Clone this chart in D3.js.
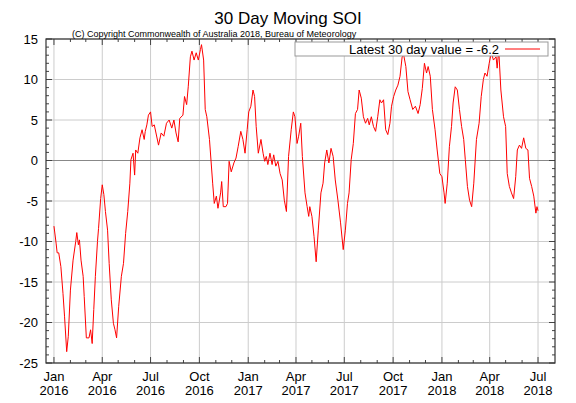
<!DOCTYPE html>
<html><head><meta charset="utf-8">
<script src="https://cdn.jsdelivr.net/npm/d3@7"></script>
<style>body{margin:0;background:#fff}text{font-family:"Liberation Sans",Arial,sans-serif}</style>
</head><body><svg id="c" width="576" height="403"></svg>
<script>
// days since 1 Jan 2016
var days = [0,4,6,9,13,17,20,24,27,31,36,41,43,46,48,51,55,57,61,66,69,72,75,78,82,84,88,91,94,97,101,104,108,112,115,118,122,127,131,135,139,143,145,149,152,154,158,162,166,170,172,175,178,182,185,189,197,202,207,212,217,222,226,230,234,237,243,246,250,253,257,260,264,268,272,276,278,282,285,288,293,299,302,306,309,314,316,319,324,327,330,334,339,343,347,352,356,360,364,367,371,375,378,381,385,390,394,397,400,403,407,411,414,418,422,426,430,434,438,442,447,451,454,458,461,465,468,473,477,480,482,486,490,494,498,503,507,510,514,518,522,526,530,535,540,545,549,553,556,560,564,568,572,575,579,583,587,591,594,598,602,606,610,614,617,621,625,629,633,636,640,644,648,652,656,659,663,667,671,676,681,686,690,694,698,702,705,709,713,718,722,727,731,735,737,741,745,749,752,756,760,764,768,772,775,779,783,787,791,796,801,805,809,812,816,820,824,828,833,835,838,842,847,851,854,858,862,866,870,873,877,881,885,889,893,896,900,904,908,910,912];
var soi = [-8.1,-10.2,-11.4,-11.4,-13.1,-16.4,-19.3,-23.6,-21.7,-16,-12.3,-10,-8.9,-10.4,-9.8,-12.3,-14.3,-16.8,-21.9,-21.9,-20.9,-22.6,-18.4,-14.3,-10,-8.4,-4.7,-3,-4.2,-6.3,-8.6,-12.7,-17.2,-20.1,-20.9,-21.9,-18,-14.3,-12.7,-9,-6.3,-2.8,0.1,0.9,-1.8,1.3,0.9,2.8,3.8,2.6,3.6,4.4,5.6,6,4.2,4.4,1.9,3.4,3,4.6,5,4,5,3.4,2.3,5.2,5.6,7.9,6.9,9.1,12.8,13.5,12.4,13.3,12.4,13.7,14.3,12.4,6.3,5.4,2.6,-2.8,-5.3,-4.4,-5.9,-4,-2.6,-5.7,-5.7,-5.3,-0.1,-1.4,-0.3,0.3,1.7,3.6,2.6,0.9,3.8,6,6.7,8.7,7.9,4.2,0.9,2.6,0.9,-0.1,0.5,-0.5,0.9,-0.5,0.7,-0.7,-0.1,-1.6,-2.4,-4.9,-6.3,0.5,3.8,6,5.4,2.1,3,4.6,0.5,-4,-5.7,-6.9,-5.7,-6.9,-9.4,-12.5,-8.6,-4,-2.8,-0.3,1.3,-0.3,1.5,0.5,-2.4,-4.9,-7.7,-11,-8.6,-5.3,-4,0.1,2.1,5.8,6.3,8.7,7.7,5.4,4.6,5.2,4.4,5.4,4.2,3.6,5.4,7.5,7.1,7.5,3.8,3.2,4.6,6.7,7.9,8.7,9.3,10.4,12.8,13,11.6,8.5,7.5,6.3,6.7,5.8,6.9,8.9,12,10.8,11.6,10.4,6.3,3.8,1.3,-1.6,-2,-4,-5.3,-2.8,1.7,4.2,7.1,9.1,8.7,6.3,4.2,2.6,0.1,-3.2,-4.9,-5.7,-2.8,2.6,4.6,7.9,10,10.8,10.4,12,13.3,12.4,12.8,11.4,13.7,8.7,5.4,4.2,-1.6,-3.2,-4,-4.7,-2,1.3,1.9,1.5,2.8,1.5,1.3,-2.2,-3.2,-4.4,-6.5,-5.7,-6.2];
var yTicks = [15,10,5,0,-5,-10,-15,-20,-25];
var xTickDates = ["2016-01-01","2016-04-01","2016-07-01","2016-10-01","2017-01-01","2017-04-01","2017-07-01","2017-10-01","2018-01-01","2018-04-01","2018-07-01"];
var monthNames = ["Jan","Feb","Mar","Apr","May","Jun","Jul","Aug","Sep","Oct","Nov","Dec"];

var svg = d3.select("#c");
var L = 46, R = 555, T = 39, B = 363;
var t0 = new Date(2016,0,1);
var x = d3.scaleTime().domain([new Date(2015,11,17), new Date(2018,7,2)]).range([L,R]);
var y = d3.scaleLinear().domain([-25,15]).range([B,T]);
var xt = xTickDates.map(function(s){ var p=s.split("-"); return new Date(+p[0],+p[1]-1,+p[2]); });

// grid
svg.selectAll(".gx").data(xt).enter().append("line")
  .attr("x1",function(d){return x(d)}).attr("x2",function(d){return x(d)})
  .attr("y1",T).attr("y2",B).attr("stroke","#ccc");
svg.selectAll(".gy").data(yTicks).enter().append("line")
  .attr("x1",L).attr("x2",R).attr("y1",function(d){return y(d)}).attr("y2",function(d){return y(d)})
  .attr("stroke",function(d){return d===0?"#888":"#ccc"});

// minor ticks
var months = d3.timeMonth.range(new Date(2016,0,1), new Date(2018,7,1));
svg.selectAll(".mx").data(months).enter().append("line")
  .attr("x1",function(d){return x(d)}).attr("x2",function(d){return x(d)})
  .attr("y1",B).attr("y2",function(d){return B-(d.getMonth()%3===0?6:3)}).attr("stroke","#444");
svg.selectAll(".mxt").data(months).enter().append("line")
  .attr("x1",function(d){return x(d)}).attr("x2",function(d){return x(d)})
  .attr("y1",T).attr("y2",function(d){return T+(d.getMonth()%3===0?6:3)}).attr("stroke","#444");
var ym = d3.range(-25,16);
svg.selectAll(".my").data(ym).enter().append("line")
  .attr("x1",L).attr("x2",function(d){return L+(d%5===0?6:3)})
  .attr("y1",function(d){return y(d)}).attr("y2",function(d){return y(d)}).attr("stroke","#444");
svg.selectAll(".myr").data(ym).enter().append("line")
  .attr("x1",R).attr("x2",function(d){return R-(d%5===0?6:3)})
  .attr("y1",function(d){return y(d)}).attr("y2",function(d){return y(d)}).attr("stroke","#444");

// frame
svg.append("rect").attr("x",L).attr("y",T).attr("width",R-L).attr("height",B-T)
  .attr("fill","none").attr("stroke","#333").attr("stroke-width",1.2);

// line
var pts = days.map(function(d,i){ return [d3.timeDay.offset(t0,d), soi[i]]; });
svg.append("path").datum(pts).attr("fill","none").attr("stroke","#ff0000").attr("stroke-width",1)
  .attr("d", d3.line().x(function(d){return x(d[0])}).y(function(d){return y(d[1])}));

// labels
svg.selectAll(".yl").data(yTicks).enter().append("text")
  .attr("x",L-8).attr("y",function(d){return y(d)+4.5}).attr("text-anchor","end")
  .attr("font-size",13).text(function(d){return d});
var xl = svg.selectAll(".xl").data(xt).enter().append("text")
  .attr("text-anchor","middle").attr("font-size",13);
xl.append("tspan").attr("x",function(d){return x(d)}).attr("y",B+18).text(function(d){return monthNames[d.getMonth()]});
xl.append("tspan").attr("x",function(d){return x(d)}).attr("y",B+32).text(function(d){return d.getFullYear()});

svg.append("text").attr("x",288).attr("y",24).attr("text-anchor","middle").attr("font-size",17).text("30 Day Moving SOI");
svg.append("text").attr("x",72).attr("y",36.5).attr("font-size",9).text("(C) Copyright Commonwealth of Australia 2018, Bureau of Meteorology");

// legend
svg.append("rect").attr("x",295).attr("y",42).attr("width",253).attr("height",14).attr("fill","#fff").attr("stroke","#999");
svg.append("text").attr("x",499).attr("y",54).attr("text-anchor","end").attr("font-size",13).text("Latest 30 day value = -6.2");
svg.append("line").attr("x1",505).attr("x2",540).attr("y1",49).attr("y2",49).attr("stroke","#ff0000");
</script></body></html>
